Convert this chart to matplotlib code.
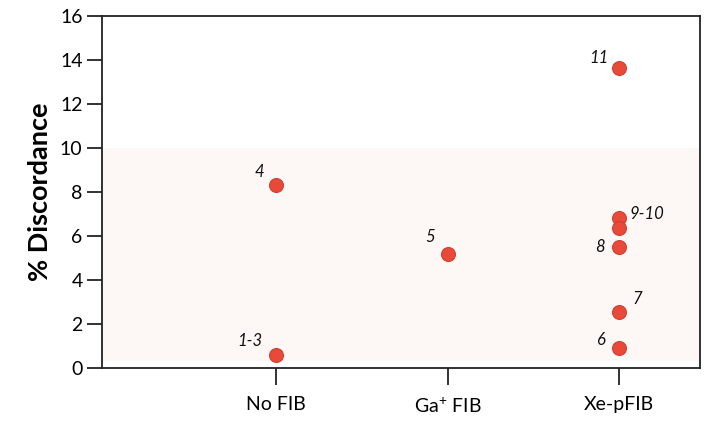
import matplotlib.pyplot as plt
import numpy as np

plt.rcParams['font.family'] = ['Lato', 'DejaVu Sans']

categories = ['No FIB', r'Ga$\mathregular{^{+}}$ FIB', 'Xe-pFIB']
group = [0, 0, 1, 2, 2, 2, 2, 2, 2]
discordance = [8.3, 0.6, 5.2, 13.65, 6.8, 6.35, 5.5, 2.55, 0.9]
labels = ['4', '1-3', '5', '11', '9-10', None, '8', '7', '6']
# label offsets in points (dx, dy)
offsets = [(-12, 10), (-19, 10), (-13, 12), (-15, 7), (20, 3), None, (-14, 0), (13, 9), (-13, 6)]

fig = plt.figure(figsize=(7.06, 4.23), dpi=100)
ax = fig.add_axes([0.1445, 0.13, 0.847, 0.832])

ax.axhspan(0.3, 10, color='#fdf8f5', zorder=0, lw=0)

ax.scatter(group, discordance, s=100, color='#e84a3a', edgecolors='#d43d2e',
           linewidths=0.8, zorder=3)

for g, v, lab, off in zip(group, discordance, labels, offsets):
    if lab is None:
        continue
    ax.annotate(lab, (g, v), xytext=off, textcoords='offset points',
                ha='center', va='center', fontsize=12, style='italic', color='#111111')

ax.set_xlim(-1.015, 2.47)
ax.set_ylim(0, 16)
ax.set_xticks(range(len(categories)))
ax.set_xticklabels(categories, fontsize=14)
ax.set_yticks(np.arange(0, 17, 2))
ax.tick_params(axis='y', labelsize=14, length=10.5, width=1.3, color='#222222')
ax.tick_params(axis='x', length=12.5, width=1.3, color='#222222', pad=8)
for s in ax.spines.values():
    s.set_linewidth(1.3)
    s.set_color('#222222')

ax.set_ylabel('% Discordance', fontsize=19.5, fontweight='bold', labelpad=6)

fig.savefig('out.png', dpi=100)
